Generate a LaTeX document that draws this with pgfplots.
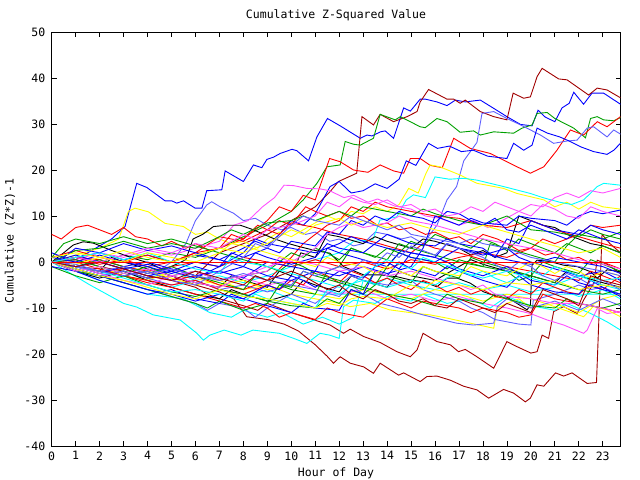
\documentclass[border=0pt]{standalone}
\usepackage{fontspec}
\setmainfont{DejaVu Sans Mono}
\usepackage{pgfplots}
\pgfplotsset{compat=1.18}
\definecolor{gpred}{RGB}{255,0,0}
\definecolor{gpgreen}{RGB}{0,160,0}
\definecolor{gpblue}{RGB}{0,0,255}
\definecolor{gpmag}{RGB}{255,80,255}
\definecolor{gpcyan}{RGB}{0,255,255}
\definecolor{gpdred}{RGB}{160,0,0}
\definecolor{gpyel}{RGB}{255,255,0}
\definecolor{gpslate}{RGB}{96,96,255}
\newcommand{\gpfont}{\fontsize{11.5bp}{12bp}\selectfont}
\begin{document}
\begin{tikzpicture}
\useasboundingbox (0,0) rectangle (640bp,480bp);
\begin{axis}[
    at={(51.7bp,34bp)}, anchor=south west,
    scale only axis, width=569bp, height=414bp,
    xmin=0, xmax=23.75, ymin=-40, ymax=50,
    xtick={0,1,...,23}, ytick={-40,-30,...,50},
    tick pos=both, tick align=inside,
    major tick length=5bp,
    axis line style={line width=1bp},
    tick style={line width=0.8bp, black},
    /pgf/number format/assume math mode=true,
    ticklabel style={font=\gpfont},
    xticklabel style={yshift=-2bp},
    yticklabel style={xshift=-3bp},
    every axis plot/.append style={line width=0.9bp},
]
% top outliers
\addplot[gpblue] coordinates {(0,0)(0.5,1)(1,0.5)(1.5,2)(2,3.5)(2.5,5)(3.06,7.7)(3.55,17.1)(3.97,16.2)(4.39,14.6)(4.73,13.3)(5.01,13.3)(5.22,12.8)(5.5,13.3)(5.99,11.7)(6.27,11.7)(6.47,15.5)(7.1,15.7)(7.24,19.8)(8.0,17.5)(8.42,21.1)(8.77,20.5)(8.98,22.3)(9.26,22.8)(9.54,23.6)(10.03,24.5)(10.23,24.2)(10.72,22.0)(11.07,27.2)(11.51,31.2)(12.04,29.6)(12.88,26.9)(13.16,27.6)(13.37,27.4)(13.72,28.3)(13.92,28.5)(14.27,26.9)(14.69,33.5)(14.97,32.8)(15.38,35.4)(15.6,35.4)(16.08,34.8)(16.5,34.0)(16.85,35.2)(17.26,34.8)(17.89,35.2)(18.45,33.4)(19.0,31.6)(19.57,29.9)(20.05,29.6)(20.3,33)(20.6,31.5)(21.0,30.5)(21.3,33.5)(21.6,34.5)(21.79,36.9)(22.2,34.3)(22.55,36.7)(23.04,36.7)(23.74,34.3)};
\addplot[gpdred] coordinates {(0,0)(1,-1)(2,-2)(3,-3)(4,-2)(5,-4)(6,-3)(7,2)(8,4)(9,6)(10,9)(11,12)(11.62,15.3)(11.97,17.5)(12.73,19.3)(12.95,31.6)(13.43,29.8)(13.71,32.1)(14.27,30.5)(14.83,31.6)(15.25,32.7)(15.38,34.8)(15.73,37.5)(16.5,35.4)(16.78,35.4)(17.05,34.5)(17.26,35.2)(17.89,32.7)(18.45,31.6)(19.0,30.9)(19.26,36.7)(19.7,35.6)(19.98,35.9)(20.26,40.3)(20.47,42.1)(21.16,39.8)(21.51,39.6)(22.41,36.3)(22.77,37.8)(23.18,37.4)(23.74,35.7)};
\addplot[gpgreen] coordinates {(0,0)(1,1)(2,0)(3,1.5)(4,0.5)(5,2)(6,1)(7,3)(8,5.5)(9,8)(10,11)(10.5,13.5)(11.07,17.1)(11.49,20.7)(12.04,21.1)(12.25,26.2)(12.6,25.6)(12.88,25.4)(13.43,26.9)(13.71,32.1)(14.34,30.9)(14.55,31.6)(15.38,29.4)(15.59,29.2)(16.08,31.2)(16.5,30.5)(17.05,28.2)(17.61,28.5)(17.89,27.6)(18.45,28.3)(19.28,28.0)(19.63,29.1)(20.05,29.8)(20.26,32.3)(20.68,32.5)(21.0,31.2)(21.79,29.1)(22.28,27.0)(22.49,31.2)(22.77,31.6)(23.04,30.9)(23.46,30.7)(23.74,31.4)};
\addplot[gpred] coordinates {(0,0)(1,1)(2,-0.5)(3,0.5)(4,-1)(5,0)(6,2)(7,3)(8,5)(9,9)(9.5,12)(10,11)(10.5,14.5)(11,13.5)(11.3,18)(11.6,22.5)(12.04,21.8)(12.6,20)(13.2,19.5)(13.71,21.1)(14.27,19.8)(14.69,19.3)(14.97,22.5)(15.38,22.5)(15.8,21)(16.3,20.5)(16.78,26.9)(17.47,24.7)(18.3,23.6)(19.42,20.7)(19.98,19.3)(20.54,20.7)(21.09,24.3)(21.65,28.7)(22.2,27.6)(22.77,30.5)(23.18,29.4)(23.74,31.6)};
\addplot[gpslate] coordinates {(0,0)(1,-1.5)(2,-3)(3,-2)(4,-3.5)(5,0)(5.6,4)(6.0,9)(6.47,12.4)(6.68,13.1)(7.03,12.0)(7.59,10.6)(8,9)(8.5,9.5)(9,8)(9.6,7)(10,7.5)(10.6,6)(11,6.5)(11.6,4.5)(12,5)(12.6,3.5)(13,4)(13.5,6.5)(14,6)(14.6,5)(15,5.5)(15.5,4)(16.08,8)(16.5,13.5)(16.9,16.4)(17.2,22)(17.75,26)(17.96,32.3)(18.45,32.7)(19.0,31.2)(19.57,29.8)(20.4,27.6)(20.95,25.8)(21.51,26.3)(21.93,26.5)(22.35,29.1)(22.62,29.4)(23.18,27.2)(23.46,28.7)(23.74,27.8)};
\addplot[gpblue] coordinates {(0,0)(1,1)(2,2)(3,0.5)(4,1.5)(5,0)(6,1.5)(7,0.5)(8,3)(8.5,4.5)(9,3.5)(9.5,6)(10,9)(10.5,8)(11,10.5)(11.62,16.4)(12,17.5)(12.5,15)(13,15.5)(13.5,17)(14,16)(14.5,18)(14.8,22)(15.2,21)(15.73,25.8)(16.1,24.7)(16.6,25.2)(17.1,24.0)(17.6,24.3)(18.2,23)(19.0,22.5)(19.28,25.8)(19.7,24.3)(20.05,25.4)(20.26,29.1)(20.7,28)(21.2,27.2)(21.6,26.3)(22.1,25)(22.62,24)(23.18,23.4)(23.46,24.3)(23.74,25.8)};
\addplot[gpyel] coordinates {(0,0)(1,1.5)(2,3)(2.8,5)(3.2,11)(3.48,11.7)(4.04,10.9)(4.73,8.4)(5.5,7.7)(6,6)(6.5,6.5)(7,5)(7.5,4)(8,4.5)(8.6,3)(9,5)(9.5,6.5)(10,5.5)(10.5,7)(11,8.5)(11.5,10)(12,9)(12.5,11)(13,10.5)(13.5,12)(14,11)(14.5,12.5)(14.9,16)(15.3,15)(15.6,19)(15.8,21.1)(16.2,20.7)(17.05,18.9)(17.75,17.1)(18.17,16.7)(18.86,16.0)(19.42,14.9)(19.98,14.2)(20.54,13.5)(21,12)(21.5,13)(22,11.5)(22.5,13)(23,12)(23.74,11.5)};
\addplot[gpcyan] coordinates {(0,0)(1,-1)(2,-2.5)(3,-2)(4,-3.5)(5,-2)(6,-4)(7,-3)(8,-4.5)(9,-3)(10,-1)(11,0.5)(12,2)(12.6,4.5)(13.4,4.8)(13.7,9.1)(14.4,9.8)(14.8,13.5)(15.1,14.6)(15.6,14)(16.0,18.5)(16.6,18)(17.2,18.2)(17.75,17.8)(18.86,16.4)(19.98,14.9)(20.5,14)(21.2,13)(21.7,12.5)(22.2,13.5)(22.5,15)(22.77,16.4)(23.04,17.1)(23.74,16.7)};
\addplot[gpmag] coordinates {(0,0)(1,0.5)(2,2)(3,1)(4,2.5)(5,1.5)(6,3)(7,4.5)(7.6,8)(8.2,9)(8.8,12)(9.3,14)(9.7,16.7)(10.1,16.6)(10.65,16)(11.2,15.9)(11.6,15.5)(12.2,14)(12.6,14.5)(13.2,13)(13.6,13.7)(14.3,12.2)(15,11.5)(15.6,10)(16.2,9.5)(17,8)(17.6,9)(18.2,7.5)(18.8,9)(19.5,11)(20,12.5)(20.5,12)(21,14)(21.5,15)(22,14)(22.5,15.5)(23,15)(23.74,16)};
% lower outliers
\addplot[gpdred] coordinates {(0,0)(1,-1)(2,-1.5)(3,-3)(4,-2)(5,-4)(6,-5.5)(6.5,-7)(7,-8)(8,-9.5)(8.6,-10.5)(9,-9)(10,-11)(10.6,-12)(11.2,-13)(11.62,-13.7)(12.18,-15.5)(12.46,-14.6)(13.02,-16.2)(13.71,-17.5)(14.41,-19.5)(14.97,-20.6)(15.25,-19.1)(15.5,-15.5)(16.08,-17.3)(16.64,-18)(16.98,-19.5)(17.26,-19)(17.75,-20.6)(18.45,-23.1)(19,-17.3)(19.42,-18.4)(20,-19.8)(20.26,-19.5)(20.47,-15.9)(20.74,-16.6)(20.95,-10.8)(21.37,-9.7)(21.93,-11.2)(22.2,-8.3)(22.62,-4.6)(22.77,0.4)(23.18,-0.5)(23.74,-2.5)};
\addplot[gpdred] coordinates {(0,0)(1,0.5)(2,-1)(3,-2)(4,-3.5)(5,-3)(6,-5)(7,-6.5)(7.6,-8)(8.14,-11.9)(9,-12.5)(9.7,-13.5)(10.3,-15)(11,-18)(11.5,-20.5)(11.76,-22)(12.04,-20.6)(12.46,-22)(13.02,-22.8)(13.43,-24.2)(13.71,-22)(14.48,-24.6)(14.69,-24.1)(15.38,-26)(15.66,-24.9)(16.08,-24.8)(16.64,-25.7)(17.19,-27)(17.75,-27.8)(18.24,-29.6)(18.86,-27.7)(19.28,-28.5)(19.77,-30.4)(19.98,-29.6)(20.26,-26.7)(20.54,-27)(21.03,-24.1)(21.37,-24.8)(21.72,-24.1)(22.35,-26.4)(22.74,-26.2)(22.97,6)(23.3,4)(23.74,2)};
\addplot[gpcyan] coordinates {(0,0)(1.6,-5)(3,-9)(3.55,-9.8)(4.24,-11.5)(5.36,-12.6)(6.06,-15.5)(6.33,-17)(6.6,-15.9)(7.2,-14.8)(7.9,-15.9)(8.4,-14.8)(9.5,-15.5)(10.1,-16.6)(10.65,-17.7)(11.2,-15.5)(11.6,-15.9)(12.0,-16.6)(12.18,-9.7)(12.6,-8.3)(13.5,-9)(14,-7.5)(15,-8.5)(15.5,-7)(16.5,-9)(17.5,-8)(18.3,-10)(19,-7.5)(20,-9.5)(21,-10.5)(21.5,-9)(22.5,-11.2)(23.18,-13)(23.74,-14.8)};
\addplot[gpcyan] coordinates {(0,0)(2,-4)(4,-7)(5.5,-8)(6.6,-11)(7.5,-12)(8,-10.5)(9,-12)(9.6,-11)(10.5,-13.5)(11.3,-12)(12,-13.5)(12.6,-12)(13,-4)(13.5,-5)(14,-3.5)(15,-5)(16,-6)(17,-4.5)(18,-6)(19,-5)(20,-6.5)(21,-5.5)(22,-7.5)(23,-6)(23.74,-8)};
\addplot[gpcyan] coordinates {(0,0)(1,-1.5)(2,-3)(3,-2)(4,-4)(5,-5.5)(6,-4)(7,-6)(8,-7.5)(9,-6)(10,-8)(10.6,-9)(11,-7)(23.74,-7)};
\addplot[black] coordinates {(0,0)(0.5,2)(0.9,3.7)(1.32,4.4)(1.74,4.1)(2.5,2.5)(3.3,1)(4.1,-0.3)(4.66,-1.7)(5.2,-0.5)(5.6,0.5)(5.9,5)(6.3,6)(6.75,7.7)(7.31,8)(7.87,8)(8.42,7)(9.26,5.1)(9.82,4.1)(10.37,3.3)(11,2.5)(11.62,1.9)(12.18,-1)(13.02,-2.8)(13.71,-2.8)(14.41,-3.2)(14.97,-3.9)(15.52,-4.3)(16.08,-5.4)(16.5,-3.5)(16.92,-3.5)(17.47,-4.6)(18.03,-6.5)(18.6,-7.5)(18.86,-7.2)(19.42,-9)(19.84,-10.4)(19.98,-9.4)(20.05,-0.7)(20.26,0.4)(20.8,0.1)(21.37,-0.7)(21.93,-1)(22.49,-2.1)(22.77,-3.5)(23.18,-1.7)(23.74,-2.1)};
\addplot[black] coordinates {(0,0)(1,-1)(2,-2)(2.5,1)(3,0)(4,-1.5)(5,-3)(6,-4.5)(7,-5.5)(7.5,-3)(8,-4)(9,-5.5)(9.5,-2)(10,-3)(10.4,2)(11,1)(11.5,6)(12,5.5)(13,4)(13.5,5.5)(14,4.5)(15,3)(15.5,5)(16,4.5)(17,3)(17.5,1.5)(18,2.5)(18.5,1)(19,2)(19.5,10)(20,9)(20.5,8)(21,7.5)(21.5,6)(22,5)(22.5,4)(23,3.5)(23.74,2)};
\addplot[black] coordinates {(0,0)(1,-2)(2,-3.5)(3,-2)(4,-4)(5,-5.5)(6,-7)(7,-8)(7.5,-6)(8,-7)(9,-8.5)(10,-7)(10.5,-4)(11,-5)(12,-6.5)(12.5,-3)(13,-4)(14,-5.5)(14.5,-2)(15,-3)(16,-4)(17,-1)(17.5,0.5)(18,-0.5)(19,-2)(20,-3)(21,-4.5)(21.5,-2)(22,-3)(23,-4.5)(23.74,-5.5)};
\addplot[gpmag] coordinates {(0,0)(1,-1)(2,0.5)(3,-1)(4,-2.5)(5,-1)(6,-3)(7,-2)(8,-3.5)(9,-5)(10,-4)(11,-6)(12,-7)(13,-6)(14,-8)(15,-7)(16,-8.5)(17,-7.5)(18,-9)(19,-10)(19.98,-11.2)(20.68,-12.6)(21.37,-13.7)(22.2,-15.5)(22.35,-14.8)(22.77,-10.1)(23.18,-11.2)(23.74,-10.8)};
\addplot[gpyel] coordinates {(0,0)(1,-1)(2,-2.5)(3,-1)(4,-2)(5,-3.5)(6,-5)(7,-4)(8,-6)(9,-5)(10,-7)(11,-8)(12,-9)(12.46,-9.7)(13.3,-9)(14.1,-10.4)(15.25,-11.2)(15.8,-11.5)(16.5,-12.2)(17.47,-13.3)(18.45,-14.4)(18.6,-10)(19,-9)(19.5,-8)(20,-10)(21,-9)(22,-11)(23,-8)(23.74,-7)};
\addplot[gpyel] coordinates {(0,0)(1,-2)(2,-1)(3,-3)(4,-4)(5,-2)(6,-3.5)(7,-5)(8,-4)(9,-6)(10,-5)(11,-7)(12,-8)(13,-6)(14,-7)(15,-8)(16,-6)(17,-7)(18,-8.5)(19,-7)(20,-8)(20.6,-9)(21.37,-10.4)(22.2,-11.9)(22.6,-9.7)(23.18,-10.4)(23.74,-11.9)};
\addplot[gpslate] coordinates {(0,0)(1,-1.5)(2,-3)(3,-2)(4,-3.5)(5,-5)(6,-4)(7,-6)(8,-5)(9,-6.5)(10,-5)(11,-6)(12,-7.5)(12.5,-5)(13,-7)(13.71,-9)(14.5,-10)(15.5,-11.5)(16.35,-12.6)(16.9,-13.3)(17.6,-13.7)(18.45,-13.3)(18.6,-9.7)(19,-8)(19.5,-9)(20,-10)(21,-8.5)(21.5,-9.5)(22,-10.5)(23,-8)(23.74,-9.5)};
\addplot[gpslate] coordinates {(0,0)(1,-2)(2,-3)(3,-4.5)(4,-6)(5,-7.5)(6,-9)(6.5,-10.5)(7,-9)(8,-10)(8.5,-12)(9,-10)(10,-7)(10.5,-8)(11,-9)(12,-5)(12.5,-3)(13,-4)(14,-5)(15,-4)(15.5,-6)(16,-7)(17,-8.5)(17.5,-10)(18,-11)(18.5,-12.5)(19,-13)(19.5,-13.5)(20,-13.7)(20.1,-8.3)(21,-7)(22,-5)(22.5,-6)(23,-5.5)(23.74,-7)};
% bundle
\addplot[gpred] coordinates {(0,6)(0.4,5)(1,7.5)(1.5,8)(2,7)(2.5,6)(3,7.5)(3.5,5.5)(4,5)(4.6,3.5)(5,4.5)(5.6,3)(6,4)(6.6,2.5)(7,3)(7.5,6)(8,5)(8.6,8)(9,7)(9.5,9)(10,8)(10.6,12)(11,11)(11.5,10)(12,11)(12.5,9.5)(13,10)(13.6,8)(14,8.5)(14.5,7)(15,7.5)(15.6,6)(16,6.5)(16.6,5)(17,5.5)(17.5,4)(18,6)(18.6,5)(19,4)(19.5,2.5)(20,3)(20.6,1.5)(21,2)(21.5,0.5)(22,1)(22.6,-0.5)(23,0)(23.74,-1.5)};
\addplot[gpred] coordinates {(0,0)(1,-1)(2,-2)(3,-3)(4,-4.5)(5,-5.5)(6,-7)(7,-8.5)(8,-10)(8.5,-9)(9,-10)(9.5,-12)(10,-11)(11,-12.5)(11.5,-10)(12,-11)(13,-12)(14,-8)(14.5,-9)(15,-10)(15.5,-8.5)(16,-9)(17,-10)(17.5,-11)(18,-10)(19,-11)(19.5,-12)(20,-11.5)(20.5,-7)(21,-8)(22,-9)(23,-10)(23.74,-11)};
\addplot[gpred] coordinates {(0,1)(1,2.5)(2,1)(3,0)(4,1.5)(5,0)(6,2)(7,5.5)(8,4.5)(9,7)(9.5,6)(10,8.5)(11,7.5)(12,6)(13,5)(14,3.5)(15,2)(15.5,4)(16,3)(17,2)(18,0.5)(19,-1)(20,-2)(21,-3)(22,-4)(22.5,-2)(23,-3)(23.74,-4.5)};
\addplot[gpred] coordinates {(0,0)(1,-1)(2,-2)(3,-1.5)(4,-3)(5,-4)(6,-3)(7,-5)(8,-6)(9,-4)(10,1)(10.5,4)(11,6)(11.5,8)(12,9)(12.5,12)(13,11)(13.5,13)(14,12)(15,11)(16,10)(17,9.5)(18,8)(19,7.5)(20,9)(21,7)(22,5.5)(23,4)(23.74,3)};
\addplot[gpred] coordinates {(0,0)(1,1)(2,0.5)(3,-1)(4,-2)(5,-1)(6,0)(7,-1)(8,1)(9,0)(10,-1)(11,0.5)(12,-1)(13,0)(14,-1.5)(15,0.5)(16,-0.5)(17,1)(18,2)(19,1)(20,3)(20.5,5)(21,4)(22,6)(22.5,8)(23,7.5)(23.74,8)};
\addplot[gpred] coordinates {(0,0)(1,0)(2,-1.5)(3,-3)(4,-4)(5,-5)(6,-4)(7,-6)(8,-7)(9,-5)(9.5,-6)(10,-4)(10.5,-5)(11,-2)(11.5,-3)(12,-4.5)(12.5,-2)(13,-3)(13.5,-4.5)(14,-3.5)(14.5,-5)(15,-6)(15.5,-4)(16,-5)(16.5,-6.5)(17,-5.5)(17.5,-7)(18,-6)(18.5,-7.5)(19,-8)(19.5,-6)(20,-7)(20.5,-4.5)(21,-5.5)(21.5,-6.5)(22,-7)(22.5,-5)(23,-6)(23.74,-3)};
\addplot[gpgreen] coordinates {(0,0)(1,-1)(2,0.5)(3,-1)(4,-2.5)(5,-1)(6,-3)(7,-4.5)(8,-6)(8.5,-3)(9,-4)(10,-5.5)(10.5,-2)(11,-3)(12,-4.5)(13,-6)(13.5,-2)(14,-3)(15,-4.5)(15.5,-1)(16,-2)(17,-3.5)(17.5,1)(18,0)(19,-1.5)(20,-3)(20.5,0)(21,-1)(22,-2.5)(22.5,0.5)(23,-0.5)(23.74,-2)};
\addplot[gpgreen] coordinates {(0,1)(0.5,4)(1,5)(2,4)(3,5.5)(4,4)(5,5)(6,3.5)(7,2)(8,0.5)(9,-1)(9.5,-2)(10,0)(10.5,-1)(11,-2.5)(12,-4)(13,-5.5)(14,-7)(15,-8)(16,-9.5)(16.5,-7)(17,-8)(18,-9)(18.5,-7)(19,-8)(20,-9.5)(21,-10)(21.5,-8)(22,-9)(23,-10)(23.74,-9)};
\addplot[gpgreen] coordinates {(0,0)(1,-2)(2,-3)(3,-4.5)(4,-6)(5,-7.5)(6,-9)(6.5,-10)(7,-8.5)(8,-10.5)(9,-9)(9.5,-5)(10,-6)(11,-7)(11.5,-2)(12,-1)(12.5,3)(13,2)(14,0.5)(14.5,4)(15,3)(16,1.5)(17,0)(18,-1)(18.3,4)(19,3)(20,1.5)(21,0)(21.5,3.5)(22,6)(23,5)(23.74,6.5)};
\addplot[gpgreen] coordinates {(0,0)(1,2.5)(2,3)(3,4.5)(4,3)(5,4)(6,3)(7,5.5)(7.5,7)(8,6)(9,8.5)(10,9)(10.5,10)(11,9)(12,11)(12.5,10)(13,12)(14,11)(15,10)(15.5,11.5)(16,10.5)(17,9)(18,8)(18.5,9)(19,10)(19.5,8.5)(20,7)(21,6.5)(22,5.5)(22.5,7)(23,6)(23.74,5)};
\addplot[gpgreen] coordinates {(0,-1)(1,-3)(2,-4.5)(3,-3)(4,-5)(5,-6.5)(6,-7.5)(7,-6)(8,-7)(9,-8.5)(10,-9.5)(11,-10)(11.5,-8)(12,-9)(12.5,-6)(13,-7)(13.5,-5)(14,-1)(14.5,2)(15,1)(16,0)(16.5,-1.5)(17,0.5)(18,-1)(19,-2)(19.5,-4)(20,-3)(21,-4.5)(22,-6)(23,-7)(23.74,-6)};
\addplot[gpgreen] coordinates {(0,0)(1,0.5)(2,-1)(3,-2.5)(4,-1)(5,-3)(6,-2)(7,-4)(8,-3)(9,-2)(10,2)(10.5,1)(11,3)(11.5,2)(12,0.5)(12.5,3)(13,2)(13.5,1)(14,3)(14.5,2)(15,4.5)(15.5,3.5)(16,6)(16.5,5)(17,4)(17.5,3)(18,5)(18.5,4)(19,2.5)(19.5,5)(20,4)(20.5,3)(21,2)(21.5,4)(22,3)(22.5,2)(23,3.5)(23.74,2)};
\addplot[gpblue] coordinates {(0,0)(1,-1.5)(2,-3)(3,-4.5)(4,-6)(5,-7)(6,-8.5)(7,-7)(8,-8)(9,-5)(9.5,-6)(10,-3)(10.5,-4)(11,-5.5)(12,-2)(13,-3.5)(13.5,-1)(14,0)(14.5,-1.5)(15,2)(16,1)(16.5,0)(17,-1.5)(18,-3)(19,-1)(19.5,-2.5)(20,-4)(21,-5)(21.5,-3)(22,-4.5)(23,-6)(23.74,-7)};
\addplot[gpblue] coordinates {(0,2)(0.5,1)(1,3)(2,2)(3,4)(4,2.5)(5,3.5)(6,2)(7,0.5)(8,-1)(8.5,2)(9,1)(10,-0.5)(11,1)(11.5,4)(12,3)(13,2)(14,6)(14.5,5)(15,4)(16,3.5)(16.5,5)(17,4)(18,3)(18.5,1)(19,5)(19.5,4)(20,9)(20.5,8)(21,7)(22,6)(22.5,8)(23,7)(23.74,6)};
\addplot[gpblue] coordinates {(0,0)(1,-1)(2,-2.5)(3,-1)(4,0)(5,-1.5)(6,-3)(7,-2)(8,-3.5)(9,0)(10,-1)(11,-2)(12,-3)(13,-1)(14,-2.5)(15,-1)(15.5,3)(16,10)(16.5,9)(17,8)(17.5,9.5)(18,8.5)(19,8)(19.5,10)(20,9.5)(21,9)(21.5,8)(22,10)(22.5,11)(23,10.5)(23.74,11.3)};
\addplot[gpblue] coordinates {(0,-1)(1,-2)(2,-4)(3,-5.5)(4,-7)(5,-6)(6,-8)(7,-9)(7.5,-7)(8,-8)(9,-9.5)(10,-11)(10.5,-9)(11,-10)(12,-10.5)(12.5,-6)(13,-7)(13.5,-2)(14,-3)(14.5,0)(15,-1.5)(16,-3)(16.5,-1)(17,-2)(18,-4)(19,-5.5)(19.5,-3)(20,-5)(21,-6.5)(22,-7)(22.5,-4)(23,-5.5)(23.74,-7.5)};
\addplot[gpblue] coordinates {(0,1)(1,0)(2,1.5)(3,0)(4,-1)(5,-2.5)(6,-1)(7,-2.5)(8,-1)(9,-3)(10,-4)(11,-2)(11.5,3)(12,2)(13,0.5)(14,-1)(14.5,2)(15,1)(16,0)(17,3)(18,2)(19,0.5)(20,-0.5)(21,1)(22,0)(23,-1)(23.74,-2.5)};
\addplot[gpblue] coordinates {(0,0)(1,1.5)(2,0)(3,-1.5)(4,-3)(5,-2)(6,-3.5)(7,-1)(8,2)(8.5,5)(9,4)(10,3)(11,2)(12,4)(12.5,5.5)(13,4.5)(14,3)(15,2)(16,1)(16.5,4)(17,3)(18,1.5)(19,3)(19.5,1)(20,0)(21,-1.5)(22,-3)(23,-2)(23.74,-4)};
\addplot[gpblue] coordinates {(0,0)(1,-1)(2,0)(3,-1.5)(4,-0.5)(5,-2)(6,0)(7,-1)(7.5,2)(8,1)(9,3)(9.5,2)(10,4.5)(11,3.5)(11.5,6.5)(12,6)(12.5,9)(13,8)(13.5,10)(14,9)(14.5,11)(15,10)(15.5,9.5)(16,8.5)(16.5,11)(17,10.5)(17.5,9)(18,8)(18.5,9.5)(19,7)(19.5,6.5)(20,8)(20.5,7)(21,6)(21.5,5)(22,7)(22.5,6)(23,5)(23.74,4)};
\addplot[gpmag] coordinates {(0,0)(1,-1)(2,-2.5)(3,-4)(4,-5)(5,-3)(6,-4.5)(7,-5.5)(8,-3)(9,-2)(9.5,1)(10,0)(11,3)(11.5,6)(12,7.5)(12.5,8.5)(13,7.5)(14,8.5)(14.5,10)(15,9)(16,8)(17,6.5)(18,5)(19,4)(20,3)(21,2)(22,0.5)(23,-0.5)(23.74,-1.5)};
\addplot[gpmag] coordinates {(0,0)(1,-2)(2,-1)(3,-2.5)(4,-1.5)(5,-3)(6,-2)(7,-4)(8,-3)(9,-1)(10,0.5)(11,-0.5)(12,-2)(13,-1)(14,-3)(15,-2)(16,-3.5)(17,-5)(17.5,-6)(18,-5)(18.5,-7)(19,-7.5)(20,-8)(21,-9)(22,-9)(23,-10)(23.74,-11)};
\addplot[gpmag] coordinates {(0,0)(1,1)(2,0)(3,1.5)(4,3)(5,2)(6,4)(7,3)(8,6)(8.5,5)(9,7)(10,8)(11,10)(11.5,13)(12,12)(12.5,14)(13,13)(13.5,12.5)(14,13.5)(14.5,12)(15,12.5)(15.5,11)(16,11.5)(16.5,10)(17,10.5)(17.5,12)(18,11)(18.5,13)(19,12)(19.5,11)(20,10)(20.5,12.5)(21,11.5)(21.5,10)(22,9.5)(22.5,12)(23,11)(23.74,10)};
\addplot[gpcyan] coordinates {(0,0)(1,1)(2,2)(3,0.5)(4,2)(5,0)(6,-1.5)(7,-2.5)(7.5,1)(8,0)(9,-1)(10,-2.5)(11,-4)(12,-5.5)(13,-4)(14,-5.5)(15,-4)(16,-5)(17,-2)(18,-3.5)(19,-2)(20,-3.5)(21,-5)(22,-3)(23,-5)(23.74,-6)};
\addplot[gpcyan] coordinates {(0,0)(1,-1)(2,-2)(3,-3.5)(4,-5)(5,-6.5)(6,-6)(7,-7)(8,-8.5)(8.5,-7)(9,-8)(10,-9)(11,-10)(11.5,-6)(12,-7)(12.5,-5)(13,-3)(13.5,-1)(14,0.5)(14.5,-0.5)(15,-1.5)(15.5,1)(16,0)(17,-1.5)(17.5,-3)(18,-2)(18.5,-3.5)(19,-4.5)(20,-2)(20.5,-3)(21,-1)(21.5,-2)(22,-3)(23,-4)(23.74,-3.5)};
\addplot[gpyel] coordinates {(0,1)(1,2)(2,1)(3,2.5)(4,1)(5,0)(6,1.5)(7,3)(8,2)(9,4)(10,7)(10.5,6)(11,8)(12,9.5)(12.5,8)(13,9)(14,7.5)(15,8.5)(16,7)(17,6)(18,8)(19,6.5)(20,5)(21,3.5)(22,2)(23,3)(23.74,1)};
\addplot[gpyel] coordinates {(0,0)(1,-1.5)(2,-3)(3,-4)(4,-5.5)(5,-7)(6,-8)(7,-6)(8,-7.5)(9,-8)(10,-9)(11,-10)(11.5,-9)(12,-9.5)(12.5,-8)(13,-7.5)(14,-8)(15,-5)(15.5,-6)(16,-4)(17,-5)(18,-6)(19,-4.5)(20,-5)(21,-4)(22,-6)(23,-5)(23.74,-5.5)};
\addplot[gpyel] coordinates {(0,0)(1,-0.5)(2,1)(3,0)(4,2)(5,1)(6,0)(7,2)(7.5,4)(8,3.5)(9,2)(10,0.5)(11,-1)(11.5,1)(12,0)(13,-1)(13.5,-2.5)(14,-1)(14.5,-2)(15,-3)(15.5,-1)(16,-2)(17,-3)(17.5,-1)(18,-2)(19,-3)(19.5,-1.5)(20,0)(20.5,-1)(21,-2.5)(21.5,-1)(22,-2)(22.5,-3.5)(23,-2)(23.74,-3)};
\addplot[gpslate] coordinates {(0,0)(1,-1)(2,-2)(3,-3)(4,-2)(5,-4)(6,-5)(7,-2)(8,1)(8.5,4)(9,3)(10,8)(10.5,10)(11,9)(12,8)(12.5,10)(13,9)(14,7)(14.5,8)(15,6)(16,5)(17,4)(17.5,5)(18,4)(19,3)(20,1)(21,0)(22,-1)(23,-2)(23.74,-3)};
\addplot[gpslate] coordinates {(0,0)(1,-0.5)(2,-2)(3,-1)(4,-2.5)(5,-1.5)(6,-3)(7,-4)(8,-2.5)(9,-4)(10,-5)(10.5,-2)(11,-3)(12,-1)(12.5,-2)(13,0.5)(13.5,-0.5)(14,2)(14.5,1)(15,3.5)(15.5,2.5)(16,1.5)(16.5,4)(17,3)(17.5,2)(18,1)(18.5,-0.5)(19,-2)(19.5,0)(20,-1)(20.5,-3)(21,-4)(21.5,-2.5)(22,-3.5)(22.5,-5)(23,-4)(23.74,-6)};
\addplot[gpdred] coordinates {(0,0)(1,-1)(2,0)(3,-1.5)(4,-3)(5,-4)(6,-2)(7,-3.5)(8,-5)(8.5,-3)(9,-4)(10,-2)(10.5,-3)(11,-4.5)(11.5,-6)(12,-5)(12.5,-7)(13,-8)(13.5,-6)(14,-7)(14.5,-8.5)(15,-9)(15.5,-8)(16,-9.5)(16.5,-10)(17,-8)(17.5,-9)(18,-10)(18.5,-11)(19,-9)(19.5,-10)(20,-11)(20.5,-6)(21,-7)(21.5,-8)(22,-9.5)(22.5,-3)(23,-4)(23.74,-5)};
% zero line
\addplot[gpred] coordinates {(0,0)(23.75,0)};
\end{axis}
\node[font=\gpfont] at (336bp,465bp) {Cumulative Z-Squared Value};
\node[font=\gpfont] at (336bp,7bp) {Hour of Day};
\node[font=\gpfont, rotate=90] at (10bp,239bp) {Cumulative (Z*Z)-1};
\end{tikzpicture}
\end{document}
